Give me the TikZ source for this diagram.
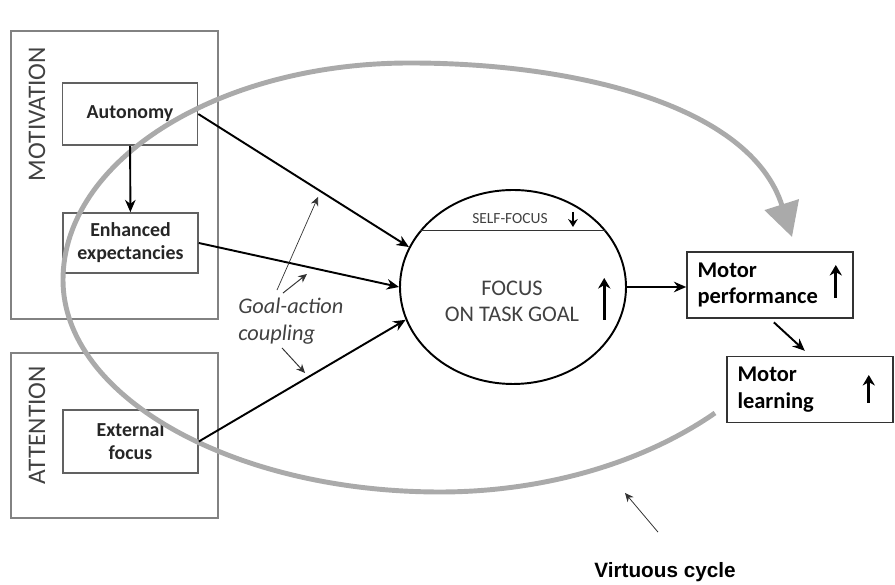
\documentclass[tikz,border=0pt]{standalone}
\usepackage{fontspec}
\setmainfont{Carlito}
\newfontfamily\arialfont{Liberation Sans}
\usetikzlibrary{arrows.meta,shapes.geometric}
\definecolor{L}{RGB}{170,170,170}
\definecolor{D}{RGB}{130,130,130}
\definecolor{T}{RGB}{65,65,65}

\begin{document}
\begin{tikzpicture}[
  outerbox/.style={draw=D, line width=0.9pt},
  bigword/.style={rotate=90, text=T, font=\fontsize{14.4}{16}\selectfont},
  inbox/.style={draw=D!75!black, line width=0.9pt, minimum width=2.7cm, minimum height=1.24cm,
    align=center, text=black!85, font=\fontsize{11.3}{13}\selectfont\bfseries},
  motorbox/.style={draw=black!80, line width=0.9pt, minimum height=1.32cm, text width=2.9cm,
    inner sep=0.21cm, align=left, font=\fontsize{12.8}{15.3}\selectfont\bfseries},
  link/.style={-{Stealth[length=7pt,width=6pt]}, line width=1.1pt},
  thinlink/.style={-{Stealth[length=5pt,width=4.5pt]}, line width=0.55pt, black!80},
  updown/.style={-{Stealth[length=6pt,width=7pt]}, line width=1.6pt}
]
  \useasboundingbox (0,0) rectangle (17.9,11.7);

  % left blocks
  \draw[outerbox] (0.22,11.08) rectangle (4.36,5.32);
  \draw[outerbox] (0.22,4.64) rectangle (4.36,1.34);
  \node[bigword] (mot) at (0.74,9.42) {MOTIVATION};
  \node[bigword] (att) at (0.74,3.2) {ATTENTION};

  \node[inbox] (auto) at (2.6,9.42) {Autonomy};
  \node[inbox, minimum height=1.2cm] (enh) at (2.61,6.84) {Enhanced\\expectancies};
  \node[inbox, minimum height=1.26cm] (ext) at (2.61,2.87) {External\\focus};

  % focus
  \node[draw, ellipse, line width=1.1pt, minimum width=4.52cm, minimum height=3.88cm, inner sep=0pt] (focus) at (10.26,5.96) {};
  \draw[line width=0.6pt, black!80] (focus.31) -- (focus.149);
  \node[text=T, font=\fontsize{8.8}{10}\selectfont] (self) at (10.2,7.32) {SELF-FOCUS};
  \draw[updown, line width=1.1pt, -{Stealth[length=4.5pt,width=5.5pt]}] ([xshift=0.38cm,yshift=0.14cm]self.east) -- ([xshift=0.38cm,yshift=-0.16cm]self.east);
  \node[text=T, align=center, font=\fontsize{12.7}{14.7}\selectfont] (task) at (10.24,5.68) {FOCUS\\ON TASK GOAL};
  \draw[updown, line width=1.8pt] ([xshift=0.38cm,yshift=-0.38cm]task.east) -- ([xshift=0.38cm,yshift=0.46cm]task.east);

  % motor
  \node[motorbox] (perf) at (15.4,6.0) {Motor\\performance};
  \draw[updown] ([xshift=-0.36cm,yshift=-0.26cm]perf.east) -- ([xshift=-0.36cm,yshift=0.4cm]perf.east);
  \node[motorbox] (learn) at (16.2,3.91) {Motor\\learning};
  \draw[updown] ([xshift=-0.5cm,yshift=-0.27cm]learn.east) -- ([xshift=-0.5cm,yshift=0.29cm]learn.east);

  % cycle
  \draw[L, line width=2.8pt, -{Triangle[length=0.68cm,width=0.7cm]}] (14.30,3.44)
    .. controls (12.8,2.4) and (10.8,1.86) .. (8.8,1.86)
    .. controls (4.65,1.86) and (1.26,3.77) .. (1.26,6.10)
    .. controls (1.26,8.50) and (4.37,10.44) .. (8.2,10.44)
    .. controls (11.5,10.44) and (15.0,9.6) .. (15.84,6.96);

  % arrows
  \draw[link] (auto) -- (enh);
  \draw[link] (auto.east) -- (focus.159);
  \draw[link] (enh.east) -- (focus.180);
  \draw[link] (ext.east) -- (focus.197);
  \draw[link] (focus.east) -- (focus.east -| perf.west);
  \draw[link, shorten <=3pt, shorten >=4pt] (perf.south) -- (learn.north);

  \node[anchor=west, inner sep=0pt, align=left, text=T, font=\fontsize{12.7}{15.3}\selectfont\itshape] (gac) at (4.76,5.27) {Goal-action\\coupling};
  \coordinate (gup) at (6.36,7.76);
  \coordinate (gmid) at (6.14,6.22);
  \coordinate (gdown) at (6.1,4.24);
  \draw[thinlink, line width=0.4pt] ([xshift=0.78cm,yshift=0.16cm]gac.north west) -- (gup);
  \draw[thinlink] ([xshift=0.9cm,yshift=0.1cm]gac.north west) -- (gmid);
  \draw[thinlink] ([xshift=0.88cm,yshift=-0.06cm]gac.south west) -- (gdown);

  \node[font=\arialfont\fontsize{11.8}{14}\selectfont\bfseries] (vc) at (13.3,0.26) {Virtuous cycle};
  \coordinate (vtip) at (12.5,1.84);
  \draw[thinlink, line width=0.45pt] ([xshift=-0.14cm,yshift=0.48cm]vc.north) -- (vtip);
\end{tikzpicture}
\end{document}
